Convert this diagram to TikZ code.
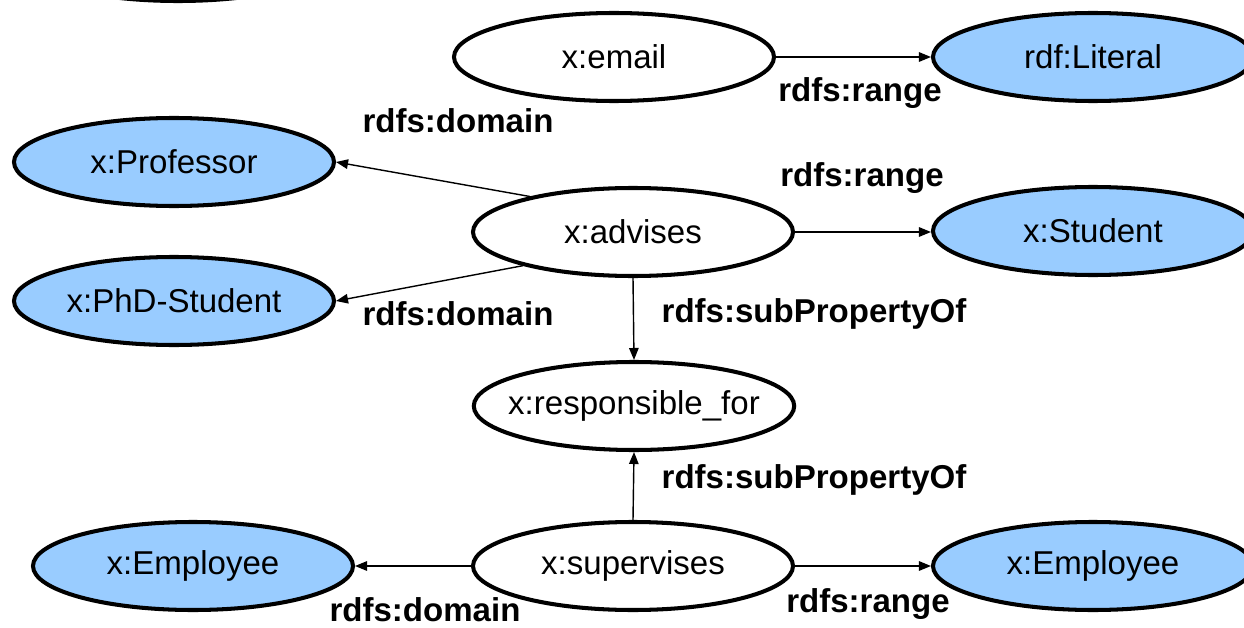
\documentclass[tikz,border=0pt]{standalone}
\usepackage{fontspec}
\setmainfont{Liberation Sans}
\usepackage{xcolor}
\usetikzlibrary{shapes.geometric, arrows.meta}
\definecolor{classblue}{HTML}{99CCFF}

\begin{document}
\begin{tikzpicture}[font=\fontsize{18.8}{22}\selectfont]
            \tikzstyle{prop} = [ellipse, draw, line width=2.3pt, fill=white, minimum width=6.4cm, minimum height=1.76cm, inner sep=0pt]
            \tikzstyle{cls} = [prop, fill=classblue]
            \tikzstyle{rel} = [-{Triangle[length=2.4mm, width=1.9mm]}, line width=0.8pt]
            \tikzstyle{lbl} = [font=\fontsize{18.8}{22}\selectfont\bfseries, inner sep=0pt]
            \useasboundingbox (0, 0) rectangle (24.88, -12.56);
            \clip (0, 0) rectangle (24.88, -12.56);
            % classes and properties
            \node[prop] (hidden) at (3.56, 0.86) {};
            \node[prop] (email) at (12.28, -1.14) {x:email};
            \node[cls] (literal) at (21.86, -1.14) {rdf:Literal};
            \node[cls] (professor) at (3.48, -3.24) {x:Professor};
            \node[cls] (phdstudent) at (3.48, -6.02) {x:PhD-Student};
            \node[prop] (advises) at (12.66, -4.64) {x:advises};
            \node[cls] (student) at (21.86, -4.62) {x:Student};
            \node[prop, inner xsep=-0.25cm] (responsible) at (12.68, -8.12) {x:responsible\_for};
            \node[prop] (supervises) at (12.66, -11.32) {x:supervises};
            \node[cls] (employeeL) at (3.86, -11.32) {x:Employee};
            \node[cls] (employeeR) at (21.86, -11.32) {x:Employee};
            % edges
            \draw[rel] (email) -- (literal);
            \draw[rel] (advises.161) -- (professor.east);
            \draw[rel] (advises.197) -- (phdstudent.east);
            \draw[rel] (advises.east) -- (advises.east -| student.west);
            \draw[rel] (advises.south) -- (responsible.north);
            \draw[rel] (supervises.north) -- (responsible.south);
            \draw[rel] (supervises) -- (employeeL);
            \draw[rel] (supervises) -- (employeeR);
            % edge labels
            \node[lbl] (l1) at (17.2, -1.86) {rdfs:range};
            \node[lbl] (l2) at (9.16, -2.42) {rdfs:domain};
            \node[lbl] (l3) at (17.24, -3.56) {rdfs:range};
            \node[lbl] (l4) at (9.16, -6.28) {rdfs:domain};
            \node[lbl] (l5) at (16.28, -6.28) {rdfs:subPropertyOf};
            \node[lbl] (l6) at (16.28, -9.6) {rdfs:subPropertyOf};
            \node[lbl] (l7) at (8.5, -12.2) {rdfs:domain};
            \node[lbl] (l8) at (17.36, -12.08) {rdfs:range};
        \end{tikzpicture}
\end{document}
